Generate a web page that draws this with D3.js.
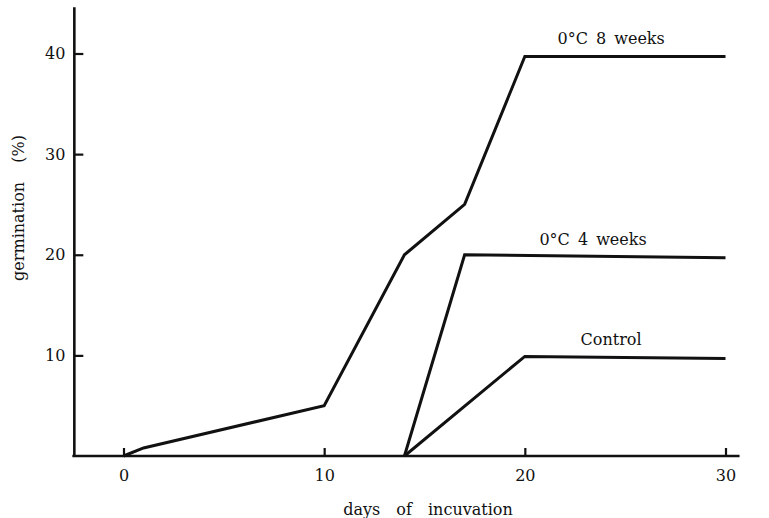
<!DOCTYPE html>
<html>
<head>
<meta charset="utf-8">
<script src="https://cdn.jsdelivr.net/npm/d3@7"></script>
<style>
  html, body { margin: 0; padding: 0; background: #fff; }
  svg text { font-family: "DejaVu Serif", serif; fill: #111; }
</style>
</head>
<body>
<svg id="chart" width="769" height="518"></svg>
<script>
// ---- data ----
const days8 = [0, 1, 10, 14, 17, 20, 30];
const germ8 = [0, 0.8, 5, 20, 25, 39.7, 39.7];
const days4 = [14, 17, 30];
const germ4 = [0, 20, 19.7];
const daysC = [14, 20, 30];
const germC = [0, 9.9, 9.7];
const seriesNames = ["0°C 8 weeks", "0°C 4 weeks", "Control"];
const xTicks = [0, 10, 20, 30];
const yTicks = [10, 20, 30, 40];
const xTitle = "days of incuvation";
const yTitle = "germination (%)";

const svg = d3.select("#chart");
const x = d3.scaleLinear().domain([0, 30]).range([123.5, 725.5]);
const y = d3.scaleLinear().domain([0, 40]).range([456, 53.5]);

const ink = "#111";
const font = "DejaVu Serif";

// axes lines
svg.append("line")
  .attr("x1", x(-2.55)).attr("x2", x(30.7))
  .attr("y1", y(0)).attr("y2", y(0))
  .attr("stroke", ink).attr("stroke-width", 2.6);
svg.append("line")
  .attr("x1", x(-2.45)).attr("x2", x(-2.45))
  .attr("y1", y(-0.1)).attr("y2", y(44.6))
  .attr("stroke", ink).attr("stroke-width", 2.6);

// x axis ticks
const xAxis = d3.axisBottom(x).tickValues(xTicks).tickSizeInner(-8).tickSizeOuter(0).tickPadding(14);
const gx = svg.append("g").attr("transform", `translate(0,${y(0)})`).call(xAxis);
gx.attr("font-family", font).attr("font-size", 16);
gx.select(".domain").remove();
gx.selectAll(".tick line").attr("stroke", ink).attr("stroke-width", 2.2);
gx.selectAll(".tick text").attr("fill", ink);

// y axis ticks
const yAxis = d3.axisLeft(y).tickValues(yTicks).tickSizeInner(-9).tickSizeOuter(0).tickPadding(9);
const gy = svg.append("g").attr("transform", `translate(${x(-2.45)},0)`).call(yAxis);
gy.attr("font-family", font).attr("font-size", 16);
gy.select(".domain").remove();
gy.selectAll(".tick line").attr("stroke", ink).attr("stroke-width", 2.2);
gy.selectAll(".tick text").attr("fill", ink);

// lines
const line = d3.line().x(d => x(d[0])).y(d => y(d[1]));
const series = [
  d3.zip(days8, germ8),
  d3.zip(days4, germ4),
  d3.zip(daysC, germC)
];
svg.selectAll("path.series").data(series).enter().append("path")
  .attr("class", "series")
  .attr("d", line)
  .attr("fill", "none")
  .attr("stroke", ink)
  .attr("stroke-width", 3)
  .attr("stroke-linejoin", "miter");

// series labels
const labelPos = [[24.3, 40], [23.4, 20], [24.3, 10]];
svg.selectAll("text.lab").data(seriesNames).enter().append("text")
  .attr("class", "lab")
  .attr("x", (d, i) => x(labelPos[i][0]))
  .attr("y", (d, i) => y(labelPos[i][1]) - 10)
  .attr("text-anchor", "middle")
  .attr("font-size", 16)
  .attr("word-spacing", 3)
  .text(d => d);

// axis titles
svg.append("text")
  .attr("x", 428).attr("y", 515)
  .attr("text-anchor", "middle")
  .attr("font-size", 16)
  .attr("word-spacing", 11)
  .text(xTitle);

svg.append("text")
  .attr("transform", "translate(24,208) rotate(-90)")
  .attr("text-anchor", "middle")
  .attr("font-size", 16)
  .attr("word-spacing", 14)
  .text(yTitle);
</script>
</body>
</html>
